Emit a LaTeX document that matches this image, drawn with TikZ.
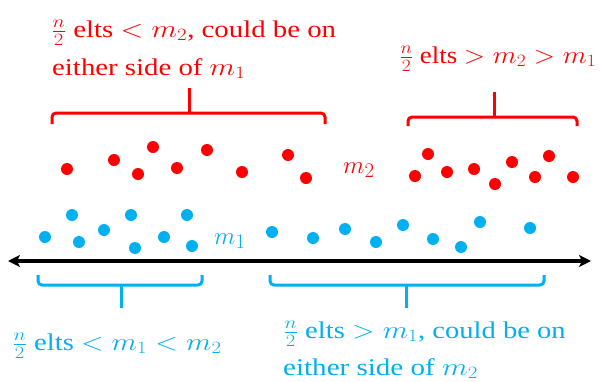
\documentclass[tikz,border=0pt]{standalone}
\usepackage{graphicx}
\usepackage{fontspec}
\setmainfont{Liberation Serif}
\usetikzlibrary{arrows.meta}
\definecolor{pred}{HTML}{FF0000}
\definecolor{pblue}{HTML}{00B0F0}
\newcommand{\wide}[2][1.2]{\scalebox{#1}[1]{#2}}
\begin{document}
\begin{tikzpicture}[x=1pt,y=-1pt,
  rdot/.style={circle,fill=pred,minimum size=12pt,inner sep=0pt},
  bdot/.style={circle,fill=pblue,minimum size=12pt,inner sep=0pt},
  lbl/.style={anchor=base west,inner sep=0pt,font=\fontsize{24}{28}\selectfont},
  mlbl/.style={anchor=base west,inner sep=0pt,font=\fontsize{28}{32}\selectfont},
  brk/.style={line width=3pt,rounded corners=4pt},
  axis/.style={line width=3.5pt,{Stealth[length=12pt,width=12pt,inset=3pt]}-{Stealth[length=12pt,width=12pt,inset=3pt]}}]
\useasboundingbox (0,0) rectangle (600,381);
% red dots
\foreach \x/\y [count=\i] in {67/169,114/160,138/174,153/147,177/168,207/150,242/172,288/155,306/178,415/176,428/154,447/172,474/169,495/184,512/162,535/177,549/156,573/177}
  \node[rdot] (r\i) at (\x,\y) {};
% blue dots
\foreach \x/\y [count=\i] in {45/237,72/215,79/242,104/230,131/215,135/248,164/237,187/215,192/246,272/232,313/238,345/229,376/242,403/225,433/239,461/247,480/222,530/228}
  \node[bdot] (b\i) at (\x,\y) {};
% labels m2, m1
\node[mlbl,text=pred] (m2) at (343,173) {$m_2$};
\node[mlbl,text=pblue] (m1) at (214,244) {$m_1$};
% number line
\coordinate (la) at (8,261);
\coordinate (ra) at (591,261);
\draw[axis] (la) -- (ra);
% red brackets
\draw[brk,pred] (52,124) -- (52,113) -- (325,113) -- (325,124);
\draw[line width=3pt,pred] (189,113) -- (189,88);
\draw[brk,pred] (408,126) -- (408,117) -- (577,117) -- (577,126);
\draw[line width=3pt,pred] (494,117) -- (494,92);
% blue brackets
\draw[brk,pblue] (38,275) -- (38,285) -- (202,285) -- (202,275);
\draw[line width=3pt,pblue] (121,285) -- (121,308);
\draw[brk,pblue] (270,275) -- (270,285) -- (544,285) -- (544,275);
\draw[line width=3pt,pblue] (406,285) -- (406,308);
% texts
\node[lbl,text=pred] (t1) at (51,37) {\wide{$\frac{n}{2}$ elts $<m_2$, could be on}};
\node[lbl,text=pred] (t2) at (52,75) {\wide{either side of $m_1$}};
\node[lbl,text=pred] (t3) at (399,63) {\wide[1.12]{$\frac{n}{2}$ elts $>m_2>m_1$}};
\node[lbl,text=pblue] (t4) at (12,350) {\wide[1.19]{$\frac{n}{2}$ elts $<m_1<m_2$}};
\node[lbl,text=pblue] (t5) at (283,338) {\wide[1.19]{$\frac{n}{2}$ elts $>m_1$, could be on}};
\node[lbl,text=pblue] (t6) at (283,375) {\wide[1.21]{either side of $m_2$}};
\end{tikzpicture}
\end{document}
